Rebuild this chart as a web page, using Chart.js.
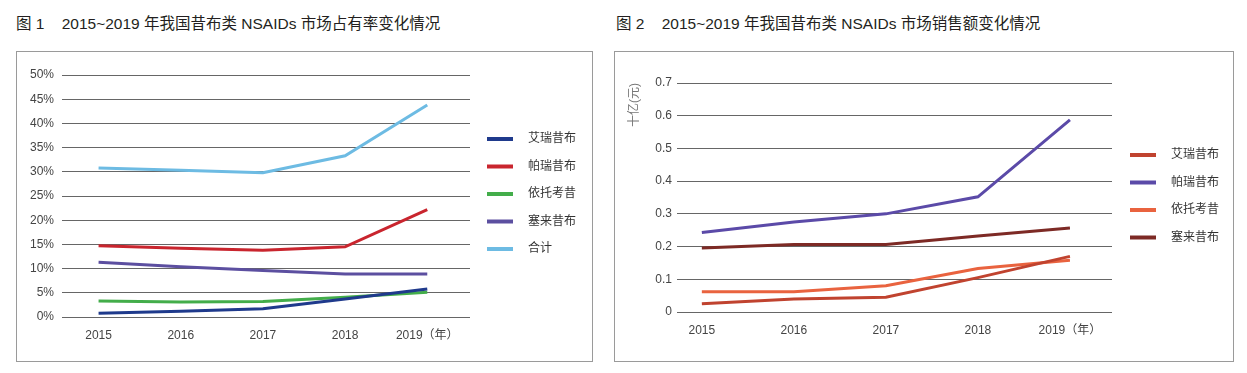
<!DOCTYPE html>
<html>
<head>
<meta charset="utf-8">
<script src="https://cdn.jsdelivr.net/npm/chart.js@4"></script>
<style>
  body { margin: 0; background: #fff; width: 1247px; height: 373px; position: relative;
         font-family: "Liberation Sans", "Noto Sans CJK SC", sans-serif; }
  .title { position: absolute; top: 11px; font-size: 15.5px; color: #231f20; white-space: pre; }
  .box { position: absolute; top: 51px; height: 309px; border: 1px solid #9a9a9a; }
</style>
</head>
<body>
<div class="title" style="left:16px">图 1    2015~2019 年我国昔布类 NSAIDs 市场占有率变化情况</div>
<div class="title" style="left:616px">图 2    2015~2019 年我国昔布类 NSAIDs 市场销售额变化情况</div>
<div class="box" style="left:16px;width:575px"><canvas id="share_chart"></canvas></div>
<div class="box" style="left:614px;width:618px"><canvas id="sales_chart"></canvas></div>
<script>
const years = [2015, 2016, 2017, 2018, 2019];
const drugNames = ['艾瑞昔布', '帕瑞昔布', '依托考昔', '塞来昔布'];
const totalName = '合计';

// fig 1: market share (%)
const shareAiruixibu = [0.8, 1.2, 1.7, 3.7, 5.8];
const sharePaerxibu = [14.7, 14.2, 13.8, 14.5, 22.2];
const shareYituokaoxi = [3.3, 3.1, 3.2, 4.1, 5.1];
const shareSailaixibu = [11.3, 10.4, 9.6, 8.9, 8.9];
const shareTotal = [30.8, 30.3, 29.8, 33.3, 43.8];
const shareTicks = [0, 5, 10, 15, 20, 25, 30, 35, 40, 45, 50];

// fig 2: sales (billion yuan)
const salesAiruixibu = [0.025, 0.04, 0.045, 0.105, 0.17];
const salesPaerxibu = [0.243, 0.275, 0.30, 0.352, 0.587];
const salesYituokaoxi = [0.062, 0.062, 0.08, 0.133, 0.158];
const salesSailaixibu = [0.196, 0.206, 0.206, 0.232, 0.257];
const salesTicks = [0, 0.1, 0.2, 0.3, 0.4, 0.5, 0.6, 0.7];

const FONT = '"Liberation Sans", "Noto Sans CJK SC", sans-serif';

const lineLegend = {
    id: 'lineLegend',
    afterDraw(chart, args, opts) {
        const {ctx} = chart;
        ctx.save();
        ctx.font = '12px ' + FONT;
        ctx.textBaseline = 'middle';
        chart.data.datasets.forEach((ds, i) => {
            const y = opts.top + i * opts.rowHeight;
            ctx.strokeStyle = ds.borderColor;
            ctx.lineWidth = 4;
            ctx.beginPath();
            ctx.moveTo(opts.left, y);
            ctx.lineTo(opts.left + 26, y);
            ctx.stroke();
            ctx.fillStyle = '#333';
            ctx.fillText(ds.label, opts.left + 41, y);
        });
        ctx.restore();
    }
};

function points(values) {
    return years.map((yr, i) => ({x: yr, y: values[i]}));
}

function line(label, values, color) {
    return {
        label: label,
        data: points(values),
        borderColor: color,
        backgroundColor: color,
        borderWidth: 3,
        pointRadius: 0,
        tension: 0,
        fill: false
    };
}

function xScale(min, max, pad) {
    return {
        type: 'linear',
        min: min,
        max: max,
        afterBuildTicks: (s) => { s.ticks = years.map(v => ({value: v})); },
        afterFit: (s) => { s.height = pad; },
        grid: {display: false, drawTicks: false},
        border: {display: false},
        ticks: {
            color: '#444',
            font: {family: FONT, size: 12},
            padding: 11,
            maxRotation: 0,
            callback: (v) => v === 2019 ? '2019（年）' : String(v)
        }
    };
}

new Chart(document.getElementById('share_chart'), {
    type: 'line',
    data: {
        datasets: [
            line(drugNames[0], shareAiruixibu, '#1f3a8c'),
            line(drugNames[1], sharePaerxibu, '#c9252e'),
            line(drugNames[2], shareYituokaoxi, '#43ad4a'),
            line(drugNames[3], shareSailaixibu, '#5c4fa0'),
            line(totalName, shareTotal, '#6dbbe3')
        ]
    },
    options: {
        responsive: true,
        maintainAspectRatio: false,
        animation: false,
        layout: {padding: {top: 23, right: 122, left: 0, bottom: 0}},
        scales: {
            x: xScale(2014.555, 2019.52, 44),
            y: {
                min: 0,
                max: 50,
                afterBuildTicks: (s) => { s.ticks = shareTicks.map(v => ({value: v})); },
                afterFit: (s) => { s.width = 45; },
                grid: {color: '#666', lineWidth: 1, drawTicks: false},
                border: {display: false},
                ticks: {
                    color: '#444',
                    font: {family: FONT, size: 12},
                    padding: 8,
                    callback: (v) => v + '%'
                }
            }
        },
        plugins: {
            legend: {display: false},
            tooltip: {enabled: false},
            lineLegend: {left: 470, top: 87, rowHeight: 27.5}
        }
    },
    plugins: [lineLegend]
});

new Chart(document.getElementById('sales_chart'), {
    type: 'line',
    data: {
        datasets: [
            line(drugNames[0], salesAiruixibu, '#c0432f'),
            line(drugNames[1], salesPaerxibu, '#5b4aa8'),
            line(drugNames[2], salesYituokaoxi, '#e9633f'),
            line(drugNames[3], salesSailaixibu, '#7d2a25')
        ]
    },
    options: {
        responsive: true,
        maintainAspectRatio: false,
        animation: false,
        layout: {padding: {top: 31, right: 121, left: 0, bottom: 0}},
        scales: {
            x: xScale(2014.73, 2019.457, 49),
            y: {
                min: 0,
                max: 0.7,
                afterBuildTicks: (s) => { s.ticks = salesTicks.map(v => ({value: v})); },
                afterFit: (s) => { s.width = 62; },
                grid: {color: '#666', lineWidth: 1, drawTicks: false},
                border: {display: false},
                title: {
                    display: true,
                    text: '十亿(元)',
                    align: 'end',
                    color: '#777',
                    font: {family: FONT, size: 12},
                    padding: {top: 12, bottom: 0}
                },
                ticks: {
                    color: '#444',
                    font: {family: FONT, size: 12},
                    padding: 5,
                    callback: (v) => v === 0 ? '0' : v.toFixed(1)
                }
            }
        },
        plugins: {
            legend: {display: false},
            tooltip: {enabled: false},
            lineLegend: {left: 515, top: 103, rowHeight: 27.5}
        }
    },
    plugins: [lineLegend]
});
</script>
</body>
</html>
